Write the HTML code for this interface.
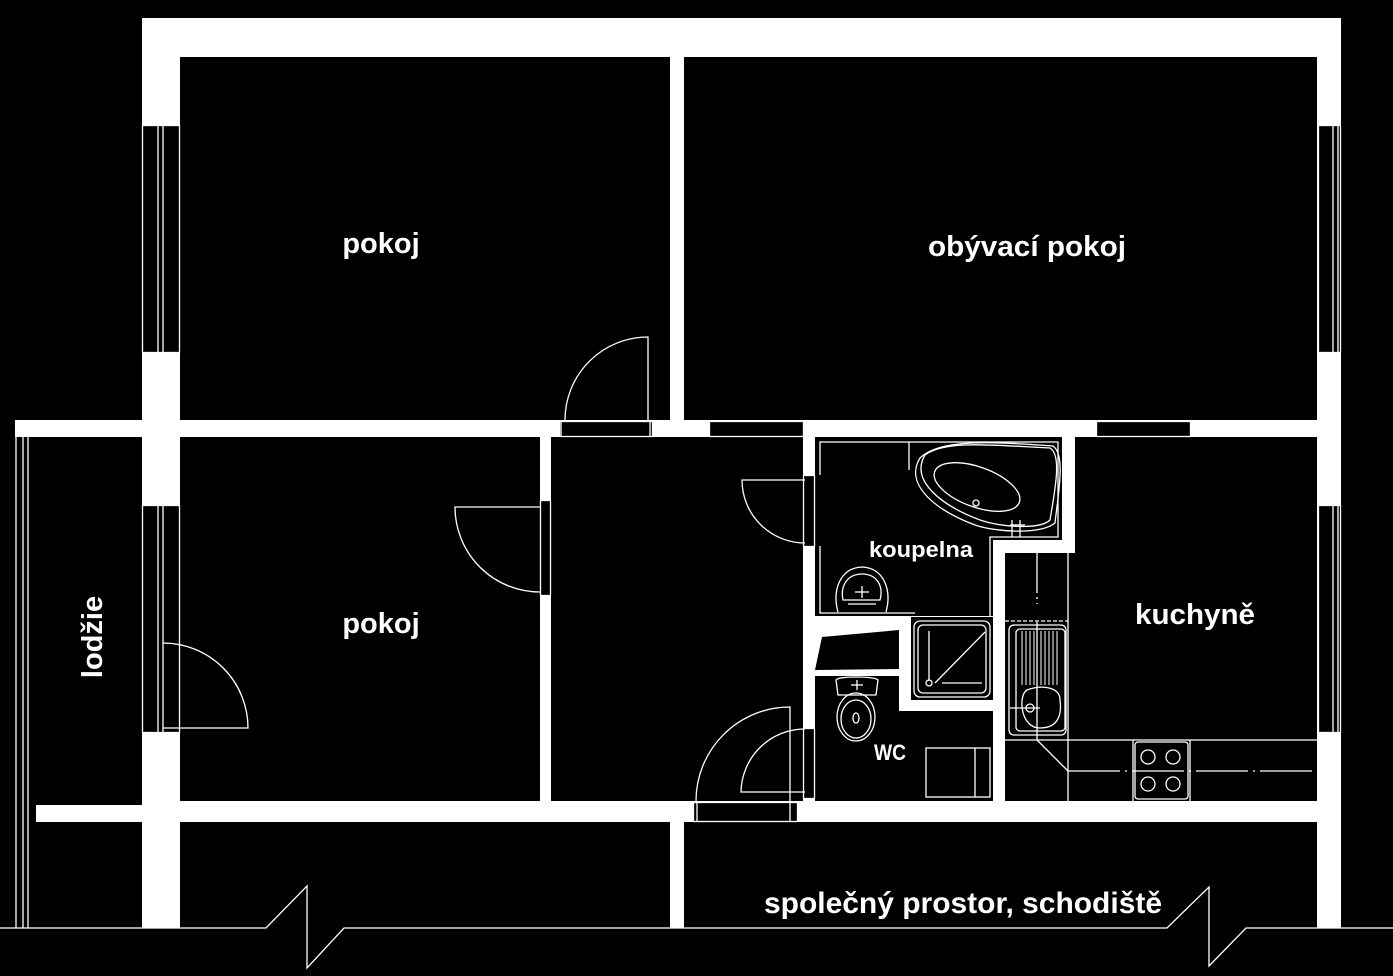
<!DOCTYPE html>
<html><head><meta charset="utf-8"><style>
html,body{margin:0;padding:0;background:#000;}
svg{display:block}
text{font-family:"Liberation Sans",sans-serif;font-weight:bold;fill:#fff}
</style></head><body>
<svg width="1393" height="976" viewBox="0 0 1393 976" xmlns="http://www.w3.org/2000/svg">
<rect width="1393" height="976" fill="#000"/>
<!-- white walls -->
<rect x="142" y="18" width="1199" height="910" fill="#fff"/>
<rect x="15" y="420" width="130" height="17" fill="#fff"/>
<rect x="36" y="805" width="110" height="17" fill="#fff"/>
<!-- rooms -->
<g fill="#000">
<rect x="180" y="57" width="490" height="363"/>
<rect x="684" y="57" width="633" height="363"/>
<rect x="180" y="437" width="360" height="364"/>
<rect x="551" y="437" width="252" height="364"/>
<polygon points="815,437 1062,437 1062,540 993,540 993,616 815,616"/>
<polygon points="1075,437 1317,437 1317,801 1005,801 1005,553 1075,553"/>
<polygon points="822,637 899,630 899,669 815,670"/>
<polygon points="815,676 899,676 899,711 993,711 993,801 815,801"/>
<rect x="911" y="617" width="82" height="83"/>
<rect x="180" y="822" width="490" height="106"/>
<rect x="684" y="822" width="633" height="106"/>
</g>
<!-- openings with white outline -->
<g fill="#000" stroke="#fff" stroke-width="1.3">
<rect x="559.5" y="421.5" width="93" height="15"/>
<rect x="709.5" y="421.5" width="94" height="15"/>
<rect x="1096.5" y="421.5" width="94" height="15"/>
<rect x="540.5" y="500.5" width="10" height="95"/>
<rect x="693.5" y="802.5" width="104" height="19"/>
<rect x="803.5" y="728.5" width="11" height="70"/>
<rect x="803.5" y="475.5" width="11" height="71"/>
<rect x="142.5" y="125.5" width="37" height="227"/>
<rect x="142.5" y="505.5" width="37" height="227"/>
<rect x="1318.5" y="125.5" width="22" height="227"/>
<rect x="1318.5" y="505.5" width="22" height="227"/>
</g>
<g stroke="#fff" stroke-width="1.3" fill="none">
<!-- window lines -->
<line x1="158" y1="125" x2="158" y2="352"/><line x1="163" y1="125" x2="163" y2="352"/>
<line x1="158" y1="505" x2="158" y2="732"/><line x1="163" y1="505" x2="163" y2="732"/>
<line x1="1333" y1="125" x2="1333" y2="352"/><line x1="1338" y1="125" x2="1338" y2="352"/>
<line x1="1333" y1="505" x2="1333" y2="732"/><line x1="1338" y1="505" x2="1338" y2="732"/>
<line x1="561" y1="420" x2="561" y2="437"/><line x1="650" y1="420" x2="650" y2="437"/>
<line x1="697" y1="802" x2="697" y2="822"/><line x1="790" y1="802" x2="790" y2="822"/>
<!-- loggia lines -->
<line x1="16" y1="437" x2="16" y2="928"/><line x1="23" y1="437" x2="23" y2="928"/><line x1="28" y1="437" x2="28" y2="928"/>
<!-- doors -->
<path d="M648,420 L648,337 A83,83 0 0 0 565,420"/>
<path d="M540,507 L455,507 A85,85 0 0 0 540,592"/>
<path d="M805,480 L742,480 A63,63 0 0 0 805,543"/>
<path d="M805,792 L741,792 A64,64 0 0 1 805,729"/>
<path d="M790,801 L790,707 A94,94 0 0 0 696,801"/>
<path d="M163,728 L248,728 A85,85 0 0 0 163,643"/>
<!-- bottom line with zigzags -->
<path d="M0,928 L266,928 L307,886 L307,968 L344,928 L1167,928 L1209,887 L1209,966 L1246,928 L1393,928"/>
<!-- bathroom outline -->
<path d="M820,475 L820,442 L1058,442 L1058,537 L990,537 L990,616"/>
<path d="M820,546 L820,613 L915,613"/>
<line x1="909" y1="442" x2="909" y2="470"/>
<!-- bathtub -->
<path d="M925,455 C945,440 990,445 1050,448 C1062,455 1055,490 1050,520 C1040,530 1000,527 980,520 C940,505 910,480 925,455 Z"/>
<path d="M920,458 C940,438 995,442 1053,446 C1066,455 1058,495 1055,523 C1040,535 995,532 975,525 C930,508 905,482 920,458 Z"/>
<ellipse cx="977" cy="487" rx="45" ry="20" transform="rotate(20 977 487)"/>
<circle cx="976" cy="503" r="3"/>
<line x1="1010" y1="525" x2="1025" y2="525"/><line x1="1012" y1="520" x2="1012" y2="537"/><line x1="1020" y1="520" x2="1020" y2="537"/>
<!-- bathroom sink -->
<path d="M838,612 C832,590 840,568 862,567 C884,568 892,590 886,612"/>
<path d="M843,600 C840,585 848,574 862,574 C876,574 884,585 880,600 Z"/>
<line x1="855" y1="592" x2="869" y2="592"/><line x1="862" y1="586" x2="862" y2="598"/>
<line x1="848" y1="604" x2="876" y2="604"/>
<!-- shower -->
<rect x="914" y="621" width="76" height="76" rx="6"/>
<rect x="918" y="625" width="68" height="68" rx="5"/>
<line x1="929" y1="631" x2="929" y2="681"/>
<line x1="935" y1="683" x2="985" y2="632"/>
<line x1="942" y1="683" x2="982" y2="683"/>
<circle cx="929" cy="683" r="3"/>
<!-- toilet -->
<path d="M836,680 C838,676 875,676 878,680 L876,695 L838,695 Z"/>
<ellipse cx="856" cy="717" rx="19" ry="24"/>
<ellipse cx="856" cy="719" rx="15" ry="19"/>
<ellipse cx="856" cy="718" rx="3" ry="5"/>
<line x1="851" y1="685" x2="863" y2="685"/><line x1="857" y1="680" x2="857" y2="690"/>
<!-- washing machine -->
<rect x="926" y="748" width="64" height="49"/>
<line x1="975" y1="748" x2="975" y2="797"/>
<!-- kitchen -->
<line x1="1037" y1="553" x2="1037" y2="604" stroke-dasharray="40 4 2 4"/>
<line x1="1037" y1="622" x2="1037" y2="740"/>
<line x1="1068" y1="553" x2="1068" y2="801"/>
<line x1="1005" y1="621" x2="1068" y2="621" stroke-dasharray="4 2"/>
<rect x="1009" y="625" width="57" height="110" rx="5"/>
<rect x="1016" y="629" width="49" height="102" rx="4"/>
<path d="M1027,690 C1040,685 1060,686 1060,700 C1062,715 1058,728 1040,728 C1020,728 1018,695 1027,690 Z"/>
<circle cx="1030" cy="708" r="4"/><line x1="1010" y1="708" x2="1040" y2="708"/>
<g stroke-width="1"><line x1="1022" y1="631" x2="1022" y2="685"/><line x1="1026" y1="631" x2="1026" y2="685"/><line x1="1030" y1="631" x2="1030" y2="685"/><line x1="1034" y1="631" x2="1034" y2="685"/><line x1="1041" y1="631" x2="1041" y2="685"/><line x1="1045" y1="631" x2="1045" y2="685"/><line x1="1049" y1="631" x2="1049" y2="685"/><line x1="1053" y1="631" x2="1053" y2="685"/><line x1="1057" y1="631" x2="1057" y2="685"/></g>
<line x1="1005" y1="740" x2="1317" y2="740"/>
<line x1="1037" y1="740" x2="1068" y2="771"/>
<line x1="1068" y1="771" x2="1317" y2="771" stroke-dasharray="52 5 2 5"/>
<line x1="1133" y1="740" x2="1133" y2="801"/><line x1="1190" y1="740" x2="1190" y2="801"/>
<rect x="1135" y="742" width="53" height="57" rx="3"/>
<circle cx="1148" cy="757" r="7"/><circle cx="1173" cy="757" r="7"/>
<circle cx="1148" cy="784" r="7"/><circle cx="1173" cy="784" r="7"/>
</g>
<!-- labels -->
<text x="381" y="253" font-size="29" text-anchor="middle">pokoj</text>
<text x="1027" y="256" font-size="29" text-anchor="middle" textLength="198" lengthAdjust="spacingAndGlyphs">obývací pokoj</text>
<text x="381" y="633" font-size="29" text-anchor="middle">pokoj</text>
<text x="921" y="557" font-size="22" text-anchor="middle" textLength="104" lengthAdjust="spacingAndGlyphs">koupelna</text>
<text x="1195" y="624" font-size="29" text-anchor="middle" textLength="120" lengthAdjust="spacingAndGlyphs">kuchyně</text>
<text x="890" y="760" font-size="22" text-anchor="middle" textLength="32" lengthAdjust="spacingAndGlyphs">WC</text>
<text x="0" y="0" font-size="29" font-weight="normal" text-anchor="middle" transform="translate(102,637) rotate(-90)">lodžie</text>
<text x="963" y="913" font-size="30" text-anchor="middle" textLength="398" lengthAdjust="spacingAndGlyphs">společný prostor, schodiště</text>
</svg>
</body></html>
